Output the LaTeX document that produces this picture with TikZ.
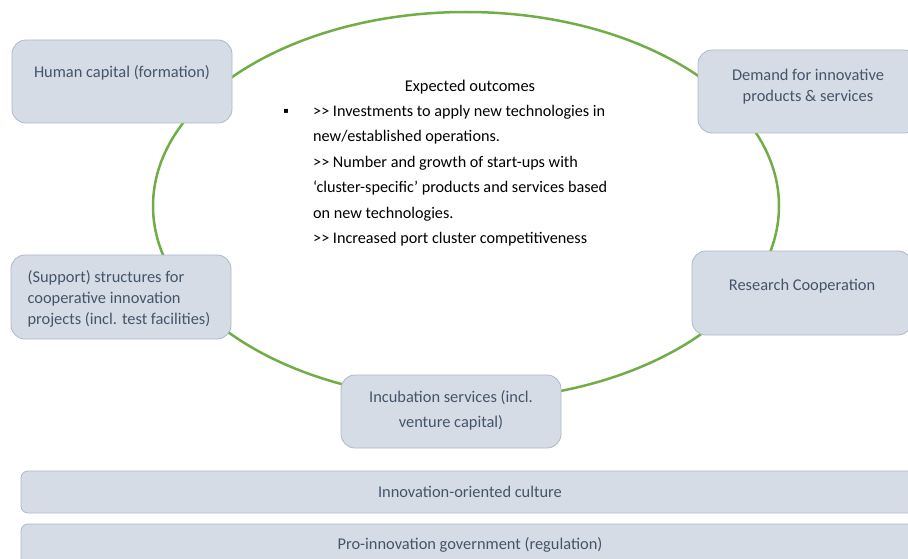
\documentclass[tikz,border=0pt]{standalone}
\usepackage{fontspec}
\setmainfont{Carlito}[Ligatures=TeXOff]
\newfontfamily\symfont{DejaVu Sans}
\definecolor{boxfill}{HTML}{D6DCE5}
\definecolor{boxline}{HTML}{ADB9CA}
\definecolor{boxtext}{HTML}{44546A}
\definecolor{ringgreen}{HTML}{70AD47}

\begin{document}
\begin{tikzpicture}[x=1pt, y=-1pt, every node/.style={font=\fontsize{16.4}{21}\selectfont}] % px-like units
  \useasboundingbox (0,0) rectangle (908,559);
  \clip (0,0) rectangle (908,559);

  \tikzset{
    box/.style={draw=boxline, fill=boxfill, line width=0.8pt, rounded corners=14pt,
      inner sep=0pt, outer sep=0pt, minimum width=220pt},
    bar/.style={box, rounded corners=7pt, minimum width=898pt, minimum height=42pt},
    lbl/.style={text=boxtext, align=center, inner sep=0pt}
  }

  % Outcome ring (behind the boxes)
  \draw[ringgreen, line width=2.5pt] (466,206) ellipse [x radius=313, y radius=194];

  % Expected outcomes
  \node[inner sep=0pt] (title) at (470,87) {Expected outcomes};
  \node[inner sep=0pt] (bullet) at (286,111) {\symfont\fontsize{8}{8}\selectfont ▪};
  \node[inner sep=0pt, anchor=north west, align=left,
        font=\fontsize{16.2}{25.4}\selectfont] (outcomes) at (313,105)
    {>> Investments to apply new technologies in\\
     new/established operations.\\
     >> Number and growth of start-ups with\\
     ‘cluster-specific’ products and services based\\
     on new technologies.\\
     >> Increased port cluster competitiveness};

  % Boxes round the ring
  \node[box, minimum height=83pt] (human) at (122,81.5) {};
  \node[lbl] (humantxt) at (122,73) {Human capital (formation)};

  \node[box, minimum height=83pt] (demand) at (808,91.5) {};
  \node[lbl] (demandtxt) at (808,86.5) {Demand for innovative\\products \& services};

  \node[box, minimum height=84pt] (support) at (121,297) {};
  \node[lbl, align=left] (supporttxt) at (119,299)
    {(Support) structures for\\cooperative innovation\\projects (incl. test facilities)};

  \node[box, minimum height=84pt] (research) at (802,293) {};
  \node[lbl] (researchtxt) at (802,286) {Research Cooperation};

  \node[box, minimum height=73pt] (incubation) at (451,411.5) {};
  \node[lbl, font=\fontsize{16.4}{25}\selectfont] (incubationtxt) at (451,410.5)
    {Incubation services (incl.\\venture capital)};

  % Base layers
  \node[bar] (culture) at (470,492) {};
  \node[lbl] (culturetxt) at (470,492) {Innovation-oriented culture};

  \node[bar] (government) at (470,545) {};
  \node[lbl] (governmenttxt) at (470,545) {Pro-innovation government (regulation)};
\end{tikzpicture}
\end{document}
